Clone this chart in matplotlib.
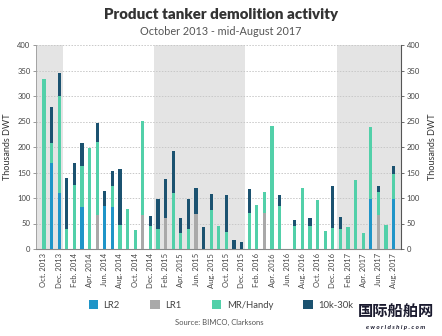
import numpy as np
import matplotlib.pyplot as plt
from matplotlib.patches import Patch

plt.rcParams['font.family'] = ['Lato', 'DejaVu Sans']

# monthly demolitions, thousand DWT, Oct 2013 .. Aug 2017
months = ["Oct. 2013", "Nov. 2013", "Dec. 2013",
          "Jan. 2014", "Feb. 2014", "Mar. 2014", "Apr. 2014", "May. 2014", "Jun. 2014",
          "Jul. 2014", "Aug. 2014", "Sep. 2014", "Oct. 2014", "Nov. 2014", "Dec. 2014",
          "Jan. 2015", "Feb. 2015", "Mar. 2015", "Apr. 2015", "May. 2015", "Jun. 2015",
          "Jul. 2015", "Aug. 2015", "Sep. 2015", "Oct. 2015", "Nov. 2015", "Dec. 2015",
          "Jan. 2016", "Feb. 2016", "Mar. 2016", "Apr. 2016", "May. 2016", "Jun. 2016",
          "Jul. 2016", "Aug. 2016", "Sep. 2016", "Oct. 2016", "Nov. 2016", "Dec. 2016",
          "Jan. 2017", "Feb. 2017", "Mar. 2017", "Apr. 2017", "May. 2017", "Jun. 2017",
          "Jul. 2017", "Aug. 2017"]

lr2 = [0, 168, 110, 0, 0, 83, 0, 0, 85, 83, 0, 0, 0, 0, 0,
       0, 0, 0, 0, 0, 0, 0, 0, 0, 0, 0, 0,
       0, 0, 0, 0, 0, 0, 0, 0, 0, 0, 0, 0,
       0, 0, 0, 0, 99, 0, 0, 98]
lr1 = [0, 0, 0, 0, 0, 0, 0, 67, 0, 0, 0, 0, 0, 67, 0,
       0, 60, 0, 0, 0, 69, 0, 0, 0, 0, 0, 0,
       0, 0, 71, 0, 0, 0, 0, 0, 0, 0, 0, 0,
       0, 0, 0, 0, 0, 67, 0, 0]
mr = [333, 39, 190, 39, 126, 80, 199, 142, 0, 41, 48, 78, 37, 184, 45,
      39, 0, 110, 32, 39, 0, 0, 76, 46, 34, 0, 0,
      71, 86, 40, 242, 85, 0, 45, 119, 45, 96, 36, 41,
      39, 44, 135, 32, 140, 45, 47, 50]
small = [0, 72, 46, 100, 43, 44, 0, 39, 29, 28, 109, 0, 0, 0, 20,
         60, 77, 82, 28, 60, 50, 43, 31, 0, 72, 18, 14,
         47, 0, 0, 0, 21, 0, 12, 0, 16, 0, 0, 83,
         24, 0, 0, 0, 0, 12, 0, 15]

series = [("LR2", lr2, "#1f95c8"),
          ("LR1", lr1, "#a9a9a9"),
          ("MR/Handy", mr, "#52d0a9"),
          ("10k-30k", small, "#1b5270")]

fig = plt.figure(figsize=(4.42, 3.36), dpi=100)
ax = fig.add_axes([36 / 442, 87 / 336, 365 / 442, 204 / 336])

x = np.arange(len(months))
xlo, xhi = -1.05, len(months) - 1 + 0.97

# shade alternate years (2013, 2015, 2017)
for a, b in [(xlo, 2.5), (14.5, 26.5), (38.5, xhi)]:
    ax.axvspan(a, b, color="#e4e4e4", lw=0, zorder=0)

bottom = np.zeros(len(months))
for name, vals, col in series:
    vals = np.array(vals, dtype=float)
    ax.bar(x, vals, width=0.42, bottom=bottom, color=col, zorder=3)
    bottom += vals

ax.set_xlim(xlo, xhi)
ax.set_ylim(0, 400)
ax.set_yticks(np.arange(0, 401, 50))
ax.yaxis.grid(True, ls=(0, (1.5, 1.5)), color="#c8c8c8", lw=0.7, zorder=1)
ax.set_axisbelow(True)

ax.set_xticks(x[::2])
ax.set_xticklabels(months[::2], rotation=90, fontsize=5.5, color="#444444")
ax.tick_params(axis="x", length=0, pad=3)
ax.tick_params(axis="y", labelsize=5.5, labelcolor="#444444", length=2,
               color="#888888", width=0.6, pad=2)

for s in ["top", "right"]:
    ax.spines[s].set_visible(False)
ax.spines["left"].set_color("#999999")
ax.spines["left"].set_linewidth(0.6)
ax.spines["bottom"].set_color("#888888")
ax.spines["bottom"].set_linewidth(0.8)

ax2 = ax.twinx()
ax2.set_ylim(0, 400)
ax2.set_yticks(np.arange(0, 401, 50))
ax2.tick_params(axis="y", labelsize=5.5, labelcolor="#444444", length=2,
                color="#555555", width=0.6, pad=2)
for s in ["top", "left", "bottom"]:
    ax2.spines[s].set_visible(False)
ax2.spines["right"].set_color("#555555")
ax2.spines["right"].set_linewidth(0.8)

ax.set_ylabel("Thousands DWT", fontsize=6.5, color="#333333", labelpad=4)
ax2.set_ylabel("Thousands DWT", fontsize=6.5, color="#333333", labelpad=6,
               rotation=90)

fig.text(0.5, 0.957, "Product tanker demolition activity", ha="center",
         va="center", fontsize=10.8, fontweight="heavy", color="#333333")
fig.text(0.5, 0.905, "October 2013 - mid-August 2017", ha="center",
         va="center", fontsize=7.8, color="#555555")

handles = [Patch(facecolor=c, edgecolor="none") for _, _, c in series]
fig.legend(handles, [n for n, _, _ in series], loc="center",
           bbox_to_anchor=(0.5, 0.092), ncol=4, frameon=False,
           fontsize=6.8, handlelength=1.0, handleheight=1.0,
           columnspacing=3.2, handletextpad=0.6, labelcolor="#444444")

fig.text(0.495, 0.040, "Source: BIMCO, Clarksons", ha="center", va="center",
         fontsize=5.5, color="#555555")

fig.text(0.895, 0.072, "国际船舶网", ha="center", va="center", fontsize=11,
         fontweight="bold", color="#1a1a2e",
         family=["Noto Sans CJK SC", "DejaVu Sans"])
fig.text(0.895, 0.025, "e w o r l d s h i p . c o m", ha="center",
         va="center", fontsize=4.5, fontweight="bold", color="#1a1a2e",
         style="italic")

fig.savefig("out.png", dpi=100)
